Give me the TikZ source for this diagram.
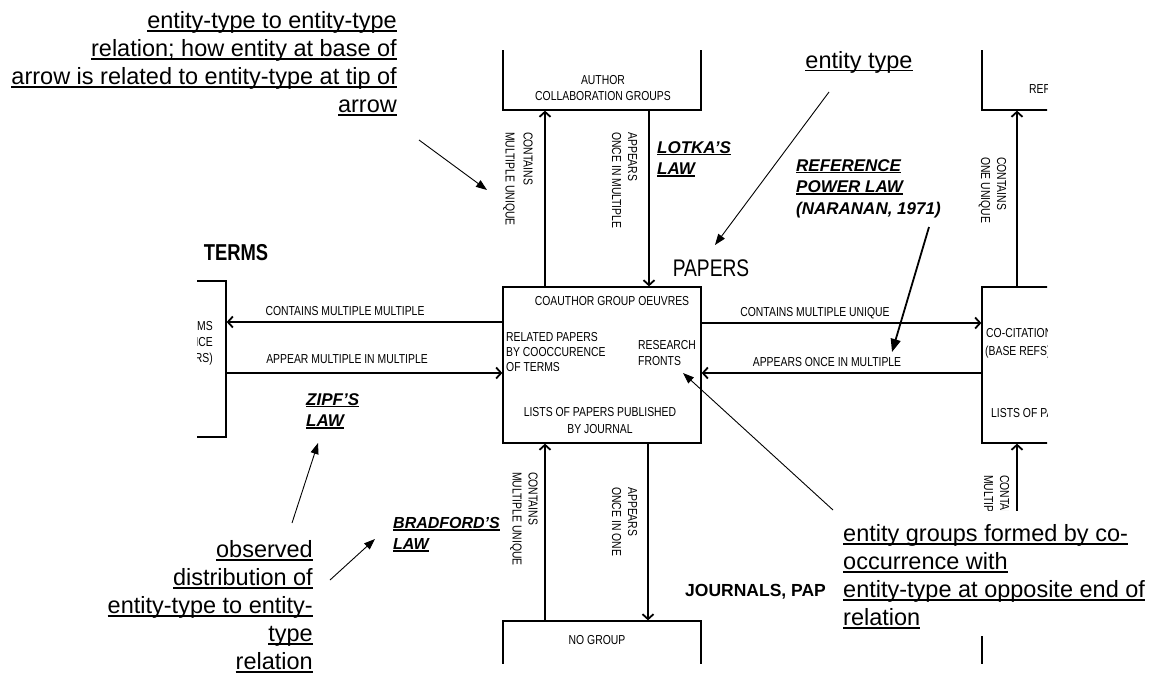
\documentclass[tikz,border=0pt]{standalone}
\usepackage{fontspec}
\setmainfont{Liberation Sans}
\newfontfamily\narrowfont[FakeStretch=0.8]{Liberation Sans}
\usetikzlibrary{arrows.meta}

% underline drawn at a fixed depth below the baseline
\newcommand{\ulin}[2][0.05em]{\setbox0\hbox{#2}\rlap{\rule[-0.14em]{\wd0}{#1}}\box0}

\tikzset{
  box/.style={draw, line width=1.3pt, minimum width=198pt, minimum height=156pt, inner sep=0pt},
  rel/.style={line width=1.8pt, -{Straight Barb[length=5pt,width=11pt]}},
  note/.style={line width=0.9pt, -{Triangle[length=11pt,width=8pt]}},
  boxtxt/.style={font=\narrowfont\fontsize{13}{16}\selectfont, inner sep=0pt},
  vlab/.style={boxtxt, rotate=-90, anchor=west, align=left},
  law/.style={font=\bfseries\itshape\fontsize{17}{21.5}\selectfont, align=left, anchor=north west, inner sep=0pt},
  annot/.style={font=\fontsize{23.5}{28}\selectfont, inner sep=0pt},
  heading/.style={font=\narrowfont\fontsize{24}{24}\selectfont, inner sep=0pt}
}

\begin{document}
\begin{tikzpicture}[x=1pt,y=-1pt]
\useasboundingbox (0,0) rectangle (1151,672);

% the visible part of the map
\begin{scope}
  \clip (197,50) rectangle (1047,663);

  % entity groups
  \node[box] (collab) at (602,32) {};
  \node[box] (core) at (602,365) {};
  \node[box] (nogroup) at (602,699) {};
  \node[box] (terms) at (127,359) {};
  \node[box] (refs) at (1081,32) {};
  \node[box] (cocit) at (1081,365) {};
  \node[box] (lists) at (1081,699) {};

  \node[boxtxt, align=center] (collabTxt) at (603,88) {AUTHOR\\COLLABORATION GROUPS};
  \node[boxtxt] (oeuvres) at (612,301) {COAUTHOR GROUP OEUVRES};
  \node[boxtxt, align=left, anchor=west, font=\narrowfont\fontsize{13}{15}\selectfont] (related) at (506,352) {RELATED PAPERS\\BY COOCCURENCE\\OF TERMS};
  \node[boxtxt, align=left, anchor=west] (fronts) at (638,353) {RESEARCH\\FRONTS};
  \node[boxtxt, align=center, font=\narrowfont\fontsize{13}{17}\selectfont] (published) at (600,421) {LISTS OF PAPERS PUBLISHED\\BY JOURNAL};
  \node[boxtxt] (nogroupTxt) at (597,640) {NO GROUP};
  \node[boxtxt, align=right, anchor=east] (termsTxt) at (213,343) {CO-WORD TERMS\\CO-OCCURRENCE\\(TERM CLUSTERS)};
  \node[boxtxt, anchor=west] (cocitTxt) at (986,333) {CO-CITATION CLUSTERS};
  \node[boxtxt, anchor=west] (baseTxt) at (985,352) {(BASE REFS)};
  \node[boxtxt, anchor=west] (listsTxt) at (991,413) {LISTS OF PAPERS};
  \node[boxtxt, anchor=west] (refsTxt) at (1029,89) {REFERENCES};

  % entity types
  \node[heading, font=\narrowfont\bfseries\fontsize{23}{23}\selectfont] (termsHead) at (236,253) {TERMS};
  \node[heading] (papersHead) at (711,268) {PAPERS};
  \node[inner sep=0pt, anchor=west, font=\bfseries\fontsize{17.5}{20}\selectfont] (journalsHead) at (685,592) {JOURNALS, PAP};

  % relations between groups
  \draw[rel] ([xshift=-57pt]core.north) -- ([xshift=-57pt]core.north |- collab.south);
  \draw[rel] ([xshift=47pt]core.north |- collab.south) -- ([xshift=47pt]core.north);
  \draw[rel] ([xshift=-57pt]core.south |- nogroup.north) -- ([xshift=-57pt]core.south);
  \draw[rel] ([xshift=46pt]core.south) -- ([xshift=46pt]core.south |- nogroup.north);
  \draw[rel] ([yshift=43pt]core.west) -- ([yshift=43pt]core.west -| terms.east);
  \draw[rel] ([yshift=-8pt]core.west -| terms.east) -- ([yshift=-8pt]core.west);
  \draw[rel] ([yshift=42pt]core.east) -- ([yshift=42pt]core.east -| cocit.west);
  \draw[rel] ([yshift=-8pt]core.east -| cocit.west) -- ([yshift=-8pt]core.east);
  \draw[rel] ([xshift=-64pt]cocit.north) -- ([xshift=-64pt]cocit.north |- refs.south);
  \draw[rel] ([xshift=-64pt]cocit.south |- lists.north) -- ([xshift=-64pt]cocit.south);

  \node[vlab, font=\narrowfont\fontsize{13}{18}\selectfont] (relA) at (518,132) {CONTAINS\\MULTIPLE UNIQUE};
  \node[vlab] (relB) at (624.5,132) {APPEARS\\ONCE IN MULTIPLE};
  \node[vlab] (relC) at (992.5,157) {CONTAINS\\ONE UNIQUE};
  \node[vlab] (relD) at (524,472) {CONTAINS\\MULTIPLE UNIQUE};
  \node[vlab] (relE) at (624.5,487) {APPEARS\\ONCE IN ONE};
  \node[vlab] (relF) at (995.5,475) {CONTAINS\\MULTIPLE UNIQUE};
  \node[boxtxt] (relG) at (345,311) {CONTAINS MULTIPLE MULTIPLE};
  \node[boxtxt] (relH) at (347,359) {APPEAR MULTIPLE IN MULTIPLE};
  \node[boxtxt] (relI) at (815,313) {CONTAINS MULTIPLE UNIQUE};
  \node[boxtxt] (relJ) at (827,362) {APPEARS ONCE IN MULTIPLE};
\end{scope}

% laws
\node[law] (lotka) at (657,141) {\ulin[0.09em]{LOTKA'S}\\\ulin[0.09em]{LAW}};
\node[law] (naranan) at (796,159) {\ulin[0.09em]{REFERENCE}\\\ulin[0.09em]{POWER LAW}\\(NARANAN, 1971)};
\node[law] (zipf) at (306,393) {\ulin[0.09em]{ZIPF'S}\\\ulin[0.09em]{LAW}};
\node[law, font=\bfseries\itshape\fontsize{16}{21}\selectfont] (bradford) at (393,517) {\ulin[0.09em]{BRADFORD'S}\\\ulin[0.09em]{LAW}};

% notes
\fill[white] (827,511) rectangle (1151,636);
\node[annot, align=left, anchor=north west] (groupnote) at (843,524)
  {\ulin{entity groups formed by co-}\\\ulin{occurrence with}\\\ulin{entity-type at opposite end of}\\\ulin{relation}};
\node[annot, align=right, anchor=north east] (relnote) at (397,11)
  {\ulin{entity-type to entity-type}\\\ulin{relation; how entity at base of}\\\ulin{arrow is related to entity-type at tip of}\\\ulin{arrow}};
\node[annot, align=right, anchor=north east] (distnote) at (313,540)
  {\ulin{observed}\\\ulin{distribution of}\\\ulin{entity-type to entity-}\\\ulin{type}\\\ulin{relation}};
\node[annot, anchor=base] (typenote) at (859,68) {\ulin{entity type}};

\coordinate (relnoteTail) at (419,140);
\coordinate (relnoteTip) at (487,190);
\coordinate (typeTail) at (829,92);
\coordinate (typeTip) at (715,245);
\coordinate (naranTail) at (929,227);
\coordinate (naranTip) at (892,352);
\coordinate (groupTail) at (833,510);
\coordinate (groupTip) at (683,373);
\coordinate (zipfTail) at (292,523);
\coordinate (zipfTip) at (318,443);
\coordinate (bradTail) at (330,580);
\coordinate (bradTip) at (375,539);

\draw[note] (relnoteTail) -- (relnoteTip);
\draw[note] (typeTail) -- (typeTip);
\draw[note, line width=1.8pt, -{Triangle[length=13pt,width=10pt]}] (naranTail) -- (naranTip);
\draw[note] (groupTail) -- (groupTip);
\draw[note] (zipfTail) -- (zipfTip);
\draw[note] (bradTail) -- (bradTip);
\end{tikzpicture}
\end{document}
